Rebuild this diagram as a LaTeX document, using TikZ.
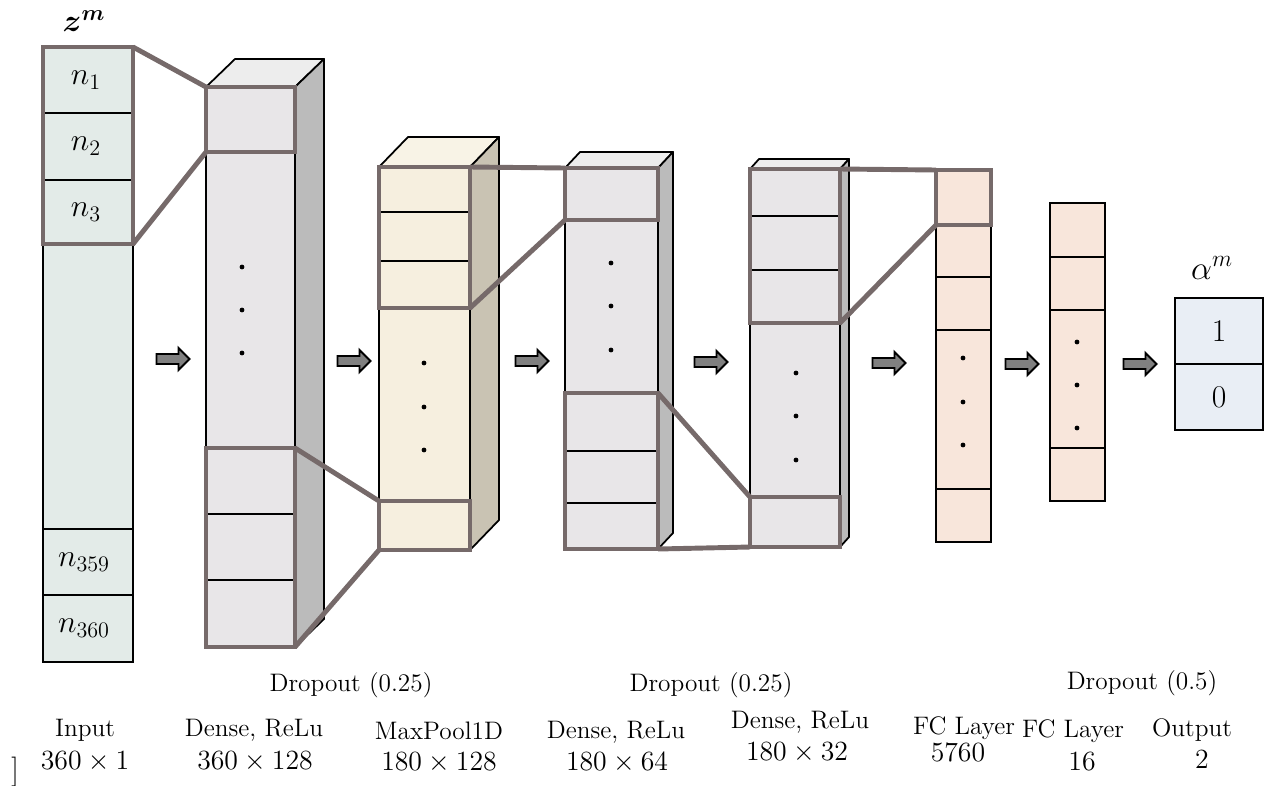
\RequirePackage{fix-cm}
\documentclass[tikz,border=0pt]{standalone}
\usepackage{bm}
\usetikzlibrary{fit,calc}

\definecolor{zoomgray}{HTML}{766A6A}
\definecolor{inputfill}{HTML}{E3EBE8}
\definecolor{densefront}{HTML}{E8E6E8}
\definecolor{densetop}{HTML}{EDEDED}
\definecolor{denseside}{HTML}{BBBBBB}
\definecolor{poolfront}{HTML}{F6EFDF}
\definecolor{pooltop}{HTML}{F8F3E6}
\definecolor{poolside}{HTML}{C9C3B3}
\definecolor{fcfill}{HTML}{F8E6DB}
\definecolor{outfill}{HTML}{E9EEF5}
\definecolor{arrowgray}{HTML}{808080}

\tikzset{
  lbl/.style={font=\fontsize{14.4}{17}\selectfont, inner sep=0pt},
  num/.style={font=\fontsize{15.8}{19}\selectfont, inner sep=0pt},
  cell/.style={font=\fontsize{18}{21}\selectfont, inner sep=0pt},
  colface/.style={draw=black, line width=1pt, inner sep=0pt, outer sep=0pt},
  face/.style={draw=black, line width=1pt, line join=round},
  div/.style={black, line width=1pt},
  zoombox/.style={draw=zoomgray, line width=2.8pt, inner sep=0pt, outer sep=0pt},
  zoomline/.style={draw=zoomgray, line width=2.8pt},
  blockarrow/.pic={
    \draw[draw=black, fill=arrowgray, line width=1.1pt, line join=miter]
      (-16.5,-5) -- (5.5,-5) -- (5.5,-11) -- (16.5,0) -- (5.5,11) -- (5.5,5) -- (-16.5,5) -- cycle;
  }
}

\begin{document}
\begin{tikzpicture}[x=0.02cm, y=-0.02cm]
\useasboundingbox (0,0) rectangle (1273,785);

% ---------- input vector ----------
\node[colface, fill=inputfill, fit={(43,47) (133,662)}] (A) {};
\foreach \yy in {113,180,529,595} \draw[div] (43,\yy) -- (133,\yy);
\node[cell] (n1) at (86,80) {$n_1$};
\node[cell] (n2) at (86,146) {$n_2$};
\node[cell] (n3) at (86,212) {$n_3$};
\node[cell] (n359) at (84,562) {$n_{359}$};
\node[cell] (n360) at (84,628) {$n_{360}$};
\node[font=\fontsize{18}{22}\selectfont, inner sep=0pt] (zm) at (84,21) {$\bm{z}^{\bm{m}}$};

% ---------- dense 360x128 ----------
\coordinate (B1) at (206,87);
\coordinate (B2) at (295,647);
\draw[face, fill=densetop] (B1) -- ++(29,-28) -- ++(89,0) -- (295,87) -- cycle;
\draw[face, fill=denseside] (295,87) -- ++(29,-28) -- ($(B2)+(29,-28)$) -- (B2) -- cycle;
\node[colface, fill=densefront, fit=(B1)(B2)] (B) {};
\foreach \yy in {514,580} \draw[div] (206,\yy) -- (295,\yy);
\foreach \yy in {267,310,353} \fill (242,\yy) circle (2.4);

% ---------- maxpool 180x128 ----------
\coordinate (C1) at (379,167);
\coordinate (C2) at (470,550);
\draw[face, fill=pooltop] (C1) -- ++(29,-30) -- ++(91,0) -- (470,167) -- cycle;
\draw[face, fill=poolside] (470,167) -- ++(29,-30) -- ($(C2)+(29,-30)$) -- (C2) -- cycle;
\node[colface, fill=poolfront, fit=(C1)(C2)] (C) {};
\foreach \yy in {212,261} \draw[div] (379,\yy) -- (470,\yy);
\foreach \yy in {363,407,450} \fill (424,\yy) circle (2.4);

% ---------- dense 180x64 ----------
\coordinate (D1) at (565,168);
\coordinate (D2) at (658,549);
\draw[face, fill=densetop] (D1) -- ++(15,-16) -- ++(93,0) -- (658,168) -- cycle;
\draw[face, fill=denseside] (658,168) -- ++(15,-16) -- ($(D2)+(15,-16)$) -- (D2) -- cycle;
\node[colface, fill=densefront, fit=(D1)(D2)] (D) {};
\foreach \yy in {451,503} \draw[div] (565,\yy) -- (658,\yy);
\foreach \yy in {263,306,350} \fill (611,\yy) circle (2.4);

% ---------- dense 180x32 ----------
\coordinate (E1) at (750,169);
\coordinate (E2) at (840,547);
\draw[face, fill=densetop] (E1) -- ++(9,-10) -- ++(90,0) -- (840,169) -- cycle;
\draw[face, fill=denseside] (840,169) -- ++(9,-10) -- ($(E2)+(9,-10)$) -- (E2) -- cycle;
\node[colface, fill=densefront, fit=(E1)(E2)] (E) {};
\foreach \yy in {216,270} \draw[div] (750,\yy) -- (840,\yy);
\foreach \yy in {373,416,460} \fill (796,\yy) circle (2.4);

% ---------- fully connected 5760 ----------
\node[colface, fill=fcfill, fit={(936,170) (991,542)}] (F) {};
\foreach \yy in {277,330,489} \draw[div] (936,\yy) -- (991,\yy);
\foreach \yy in {358,402,445} \fill (963,\yy) circle (2.4);

% ---------- fully connected 16 ----------
\node[colface, fill=fcfill, fit={(1050,203) (1105,501)}] (G) {};
\foreach \yy in {257,310,448} \draw[div] (1050,\yy) -- (1105,\yy);
\foreach \yy in {342,385,428} \fill (1077,\yy) circle (2.4);

% ---------- output ----------
\node[colface, fill=outfill, fit={(1175,298) (1263,430)}] (H) {};
\draw[div] (1175,364) -- (1263,364);
\node[cell] (o1) at (1219,331) {$1$};
\node[cell] (o0) at (1219,397) {$0$};
\node[font=\fontsize{19}{23}\selectfont] (am) at (1212,268) {$\alpha^m$};

% ---------- receptive-field boxes and their links ----------
\node[zoombox, fit={(43,47) (133,244)}] (Ag) {};
\node[zoombox, fit={(206,87) (295,152)}] (Bg1) {};
\node[zoombox, fit={(206,448) (295,647)}] (Bg2) {};
\node[zoombox, fit={(379,167) (470,308)}] (Cg1) {};
\node[zoombox, fit={(379,501) (470,550)}] (Cg2) {};
\node[zoombox, fit={(565,168) (658,220)}] (Dg1) {};
\node[zoombox, fit={(565,393) (658,549)}] (Dg2) {};
\node[zoombox, fit={(750,169) (840,323)}] (Eg1) {};
\node[zoombox, fit={(750,497) (840,547)}] (Eg2) {};
\node[zoombox, fit={(936,170) (991,225)}] (Fg) {};

\draw[zoomline] (Ag.north east) -- (Bg1.north west);
\draw[zoomline] (Ag.south east) -- (Bg1.south west);
\draw[zoomline] (Bg2.north east) -- (Cg2.north west);
\draw[zoomline] (Bg2.south east) -- (Cg2.south west);
\draw[zoomline] (Cg1.north east) -- (Dg1.north west);
\draw[zoomline] (Cg1.south east) -- (Dg1.south west);
\draw[zoomline] (Dg2.north east) -- (Eg2.north west);
\draw[zoomline] (Dg2.south east) -- (Eg2.south west);
\draw[zoomline] (Eg1.north east) -- (Fg.north west);
\draw[zoomline] (Eg1.south east) -- (Fg.south west);

% ---------- flow arrows ----------
\pic (ar1) at (173,359) {blockarrow};
\pic (ar2) at (354,361) {blockarrow};
\pic (ar3) at (532,361) {blockarrow};
\pic (ar4) at (711,362) {blockarrow};
\pic (ar5) at (889,363) {blockarrow};
\pic (ar6) at (1022,364) {blockarrow};
\pic (ar7) at (1140,364) {blockarrow};

% ---------- captions ----------
\node[lbl] (dr1) at (351,685) {Dropout (0.25)};
\node[lbl] (dr2) at (711,685) {Dropout (0.25)};
\node[lbl] (dr3) at (1142,683) {Dropout (0.5)};

\node[lbl] (t1) at (85,730) {Input};
\node[num] (s1) at (85,762) {$360\times1$};
\node[lbl] (t2) at (254,730) {Dense, ReLu};
\node[num] (s2) at (255,762) {$360\times128$};
\node[lbl] (t3) at (439,731) {MaxPool1D};
\node[num] (s3) at (439,763) {$180\times128$};
\node[lbl] (t4) at (616,732) {Dense, ReLu};
\node[num] (s4) at (617,763) {$180\times64$};
\node[lbl] (t5) at (800,722) {Dense, ReLu};
\node[num] (s5) at (797,753) {$180\times32$};
\node[lbl] (t6) at (964,728) {FC Layer};
\node[num] (s6) at (958,753) {$5760$};
\node[lbl] (t7) at (1073,731) {FC Layer};
\node[num] (s7) at (1082,762) {$16$};
\node[lbl] (t8) at (1192,730) {Output};
\node[num] (s8) at (1202,760) {$2$};
\node[font=\fontsize{17}{20}\selectfont, inner sep=0pt] (br) at (15,772) {]};
\end{tikzpicture}
\end{document}
